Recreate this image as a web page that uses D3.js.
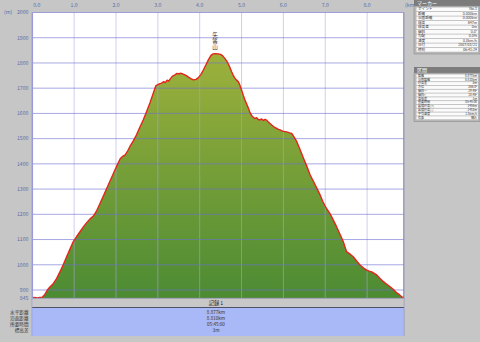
<!DOCTYPE html>
<html><head><meta charset="utf-8">
<script src="https://cdn.jsdelivr.net/npm/d3@7/dist/d3.min.js"></script>
<style>
html,body{margin:0;padding:0;background:#c6c6c6;}
svg{display:block;font-family:"Noto Sans CJK JP","Noto Sans",sans-serif;}
</style></head><body>
<svg id="c" width="480" height="342"></svg>
<script>
// ---- data ----
const distKm = [0.00,0.06,0.12,0.18,0.24,0.30,0.36,0.42,0.50,0.58,0.66,0.74,0.82,0.90,0.98,1.06,1.14,1.22,1.30,1.38,1.46,1.54,1.62,1.70,1.78,1.86,1.94,2.02,2.10,2.16,2.22,2.28,2.33,2.41,2.49,2.57,2.65,2.73,2.81,2.88,2.95,3.02,3.09,3.14,3.18,3.22,3.26,3.30,3.35,3.40,3.45,3.50,3.56,3.62,3.68,3.74,3.80,3.85,3.91,3.97,4.03,4.09,4.15,4.21,4.27,4.32,4.38,4.44,4.50,4.55,4.60,4.65,4.71,4.76,4.80,4.84,4.88,4.92,4.96,5.00,5.04,5.08,5.12,5.16,5.20,5.24,5.28,5.32,5.36,5.40,5.44,5.48,5.52,5.56,5.60,5.64,5.68,5.72,5.78,5.84,5.88,5.92,5.98,6.04,6.10,6.15,6.20,6.26,6.32,6.40,6.48,6.56,6.64,6.72,6.80,6.88,6.94,6.99,7.05,7.11,7.19,7.27,7.35,7.43,7.47,7.51,7.56,7.61,7.67,7.75,7.83,7.91,7.99,8.05,8.11,8.17,8.23,8.31,8.39,8.47,8.55,8.63,8.71,8.77,8.83,8.877];
const elevM = [847,849,846,848,850,870,900,912,925,945,972,1000,1032,1062,1092,1112,1131,1150,1167,1182,1193,1215,1244,1273,1303,1333,1363,1392,1420,1430,1436,1452,1468,1490,1515,1545,1574,1607,1641,1675,1709,1716,1720,1726,1722,1732,1728,1738,1748,1752,1758,1757,1759,1755,1750,1743,1737,1733,1735,1742,1755,1773,1793,1813,1830,1836,1837,1836,1834,1828,1818,1806,1787,1766,1752,1740,1732,1726,1712,1693,1672,1654,1638,1622,1604,1592,1585,1580,1583,1576,1574,1578,1572,1576,1573,1566,1560,1554,1546,1541,1537,1535,1530,1528,1526,1523,1521,1505,1488,1456,1422,1390,1356,1330,1303,1276,1252,1235,1218,1204,1178,1151,1122,1092,1072,1052,1046,1040,1032,1015,999,988,979,975,972,966,960,946,933,923,913,902,880,868,852,850];
const xTicks = [0,1,2,3,4,5,6,7,8];
const xTickLabels = ["0.0","1.0","2.0","3.0","4.0","5.0","6.0","7.0","8.0"];
const yTicks = [845,900,1000,1100,1200,1300,1400,1500,1600,1700,1800,1900,2000];
const peakName = "矢筈山";
const markerLabels = ["ポイント","距離","沿面距離","標高","標高差","傾斜","勾配","速度","日付","時刻"];
const markerValues = ["No.1","0.000km","0.000km","847m","0m","0.0°","0.0%","0.0km/h","2007/03/21","06:41:29"];
const sectionLabels = ["距離","沿面距離","標高差","方位","傾斜ー","傾斜+","高低差","所要時間","累積標高(+)","累積標高(-)","平均速度","気象"];
const sectionValues = ["8.877km","8.810km","3m","266.0°","-19.46°","18.46°","-1m","05:45:00","1456m","-1453m","1.5km/h","晴れ"];
const recordTitle = "記録 1";
const recordLabels = ["水平距離","沿面距離","所要時間","標高差"];
const recordValues = ["8.877km","8.810km","05:45:00","3m"];

// ---- layout ----
const L = 32.3, R = 403.8, T = 12.5, B = 298;
const svg = d3.select("#c");
const x = d3.scaleLinear().domain([0, 8.877]).range([L, R]);
const y = d3.scaleLinear().domain([845, 900, 2000]).range([B, 290, T]);
const data = distKm.map((d,i)=>({d, e: elevM[i]}));

svg.append("rect").attr("width",480).attr("height",342).attr("fill","#c6c6c6");
svg.append("rect").attr("x",L).attr("y",T).attr("width",R-L).attr("height",B-T).attr("fill","#ffffff");

const defs = svg.append("defs");
const g = defs.append("linearGradient").attr("id","fillg")
  .attr("gradientUnits","userSpaceOnUse").attr("x1",0).attr("y1",y(1840)).attr("x2",0).attr("y2",B);
g.append("stop").attr("offset",0).attr("stop-color","#9db13c");
g.append("stop").attr("offset",1).attr("stop-color","#4c8b33");

svg.append("path").datum(data)
  .attr("d", d3.area().x(p=>x(p.d)).y0(B).y1(p=>y(p.e)))
  .attr("fill","url(#fillg)");

// grid
svg.append("g").selectAll("line").data(xTicks.slice(1)).join("line")
  .attr("x1",d=>x(d)).attr("x2",d=>x(d)).attr("y1",T).attr("y2",B)
  .attr("stroke","#a8a8e0").attr("stroke-opacity",0.55).attr("stroke-width",1);
svg.append("g").selectAll("line").data(yTicks.filter(v=>v>845)).join("line")
  .attr("x1",L).attr("x2",R).attr("y1",d=>y(d)).attr("y2",d=>y(d))
  .attr("stroke","#6e6ed2").attr("stroke-opacity",0.6).attr("stroke-width",1);

svg.append("path").datum(data)
  .attr("d", d3.line().x(p=>x(p.d)).y(p=>y(p.e)))
  .attr("fill","none").attr("stroke","#e3261a").attr("stroke-width",1.4).attr("stroke-linejoin","round");

// borders
svg.append("line").attr("x1",L).attr("x2",L).attr("y1",T).attr("y2",336).attr("stroke","#9a9ad8").attr("stroke-width",1.5);
svg.append("line").attr("x1",R).attr("x2",R).attr("y1",T).attr("y2",336).attr("stroke","#7a7ab8").attr("stroke-width",1);

// axis labels
svg.append("g").selectAll("text").data(xTicks).join("text")
  .attr("x",(d,i)=> i===0 ? x(d)+4.5 : x(d)).attr("y",7)
  .attr("text-anchor","middle").attr("font-size",5.2).attr("fill","#5a6ea8")
  .text((d,i)=>xTickLabels[i]);
svg.append("text").attr("x",405).attr("y",7).attr("font-size",5.2).attr("fill","#5a6ea8").text("(km)");
svg.append("g").selectAll("text").data(yTicks).join("text")
  .attr("x",28.5).attr("y",d=>y(d)+1.8)
  .attr("text-anchor","end").attr("font-size",5.2).attr("fill","#5a6ea8")
  .text(d=>d);
svg.append("text").attr("x",4).attr("y",14).attr("font-size",5.2).attr("fill","#5a6ea8").text("(m)");

// peak label (vertical upright text)
const pk = data.reduce((a,b)=> b.e>a.e?b:a);
svg.append("text")
  .attr("x",x(pk.d)-0.5).attr("y",y(pk.e)-22)
  .attr("font-size",5.6).attr("fill","#333")
  .attr("style","writing-mode:vertical-rl;text-orientation:upright;")
  .attr("letter-spacing",0.6)
  .text(peakName);

// bottom record area
svg.append("rect").attr("x",L).attr("y",B).attr("width",R-L).attr("height",9.5).attr("fill","#c8c8c8");
svg.append("line").attr("x1",L).attr("x2",R).attr("y1",B+0.3).attr("y2",B+0.3).attr("stroke","#9090b0").attr("stroke-width",0.8);
svg.append("line").attr("x1",L).attr("x2",R).attr("y1",307.5).attr("y2",307.5).attr("stroke","#505068").attr("stroke-width",1);
svg.append("rect").attr("x",L).attr("y",308).attr("width",R-L).attr("height",28).attr("fill","#a9b9f7");
svg.append("text").attr("x",216).attr("y",305).attr("text-anchor","middle").attr("font-size",5.2).attr("fill","#222").text(recordTitle);
recordLabels.forEach((t,i)=>{
  svg.append("text").attr("x",28.5).attr("y",314+i*6).attr("text-anchor","end").attr("font-size",4.6).attr("fill","#333").text(t);
  svg.append("text").attr("x",216).attr("y",314+i*6).attr("text-anchor","middle").attr("font-size",4.6).attr("fill","#333").text(recordValues[i]);
});

// right panel
function panel(title, y0, labels, values, pitch){
  const gp = svg.append("g");
  gp.append("rect").attr("x",414).attr("y",y0).attr("width",66).attr("height",6).attr("fill","#7c7c7c");
  gp.append("text").attr("x",417).attr("y",y0+4.7).attr("font-size",5).attr("fill","#fff").text(title);
  gp.append("rect").attr("x",414).attr("y",y0+6).attr("width",66).attr("height",labels.length*pitch+3).attr("fill","#b8b8b8").attr("stroke","#8a8a8a").attr("stroke-width",0.6);
  labels.forEach((t,i)=>{
    const yy = y0+7.5+i*pitch;
    gp.append("rect").attr("x",416.5).attr("y",yy).attr("width",61.5).attr("height",pitch-0.8).attr("fill","#fbfbfb");
    gp.append("text").attr("x",418).attr("y",yy+pitch-1.6).attr("font-size",pitch*0.8).attr("fill","#333").text(t);
    gp.append("text").attr("x",477).attr("y",yy+pitch-1.6).attr("text-anchor","end").attr("font-size",pitch*0.8).attr("fill","#333").text(values[i]);
  });
}
panel("マーカー", 0, markerLabels, markerValues, 4.5);
panel("区間", 67, sectionLabels, sectionValues, 3.8);
</script></body></html>
